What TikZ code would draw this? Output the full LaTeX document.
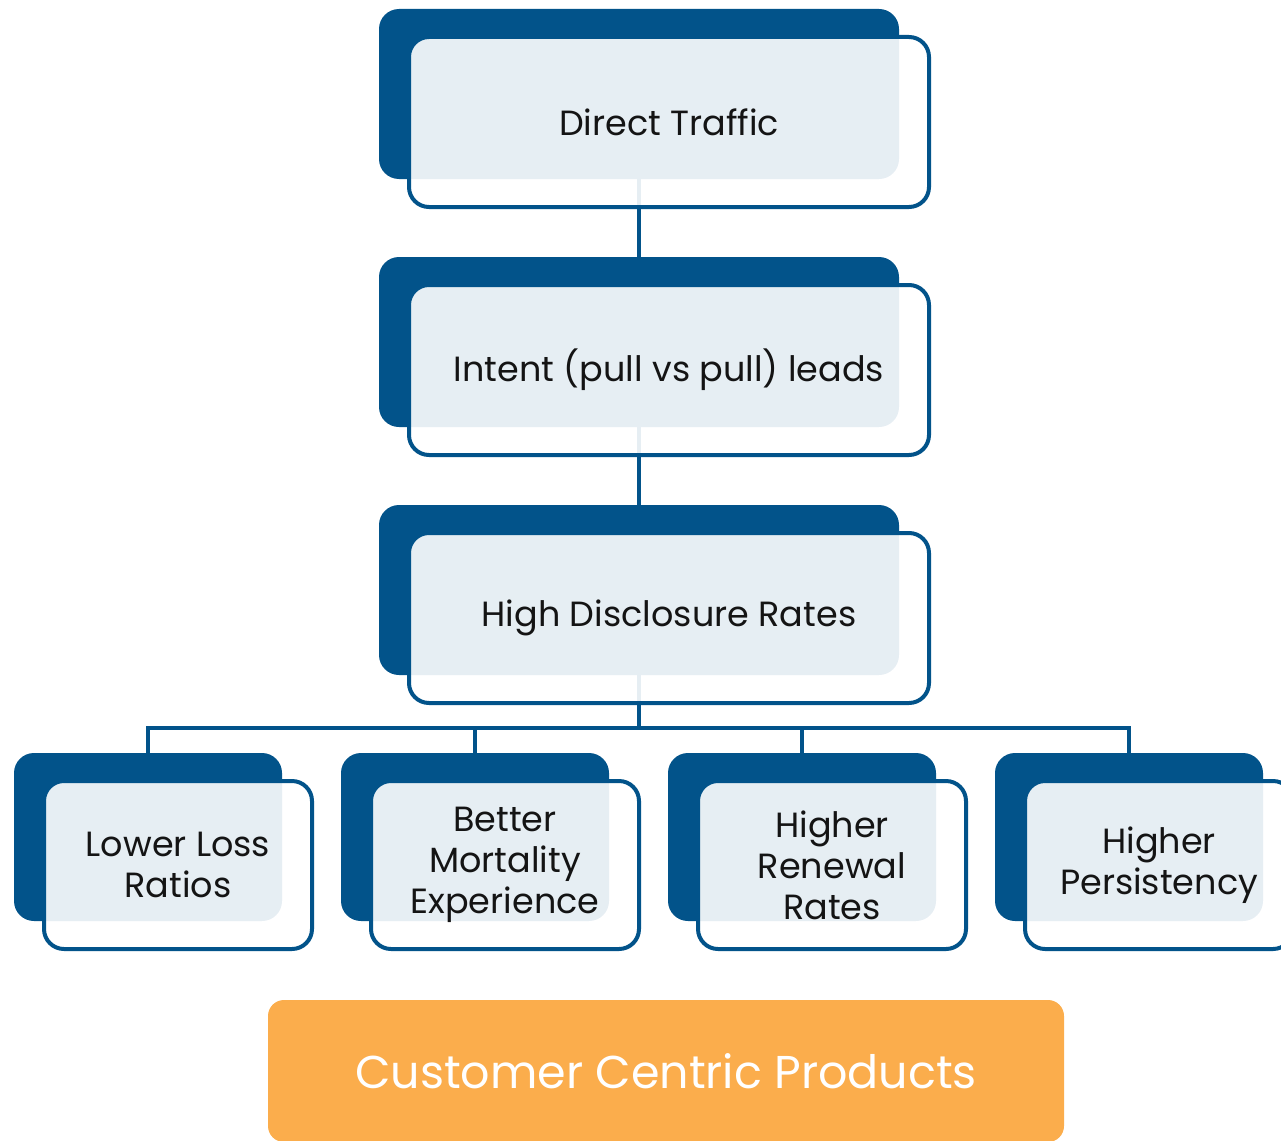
\documentclass[tikz,border=0pt]{standalone}
\usepackage{fontspec}
\setmainfont{Poppins}
\usetikzlibrary{positioning}

\pgfdeclarelayer{background}
\pgfsetlayers{background,main}

\definecolor{tierblue}{HTML}{02538A}
\definecolor{goalorange}{HTML}{FBAD4C}
\definecolor{inktext}{HTML}{141414}

\tikzset{
  tier/.style={rectangle, rounded corners=20pt, draw=tierblue, line width=4pt,
    fill=white, fill opacity=0.9, text opacity=1, text=inktext, align=center,
    preaction={fill=tierblue, draw=none, fill opacity=1,
      transform canvas={xshift=-30pt, yshift=28pt}}},
  wide/.style={tier, minimum width=520pt, minimum height=170pt,
    font=\fontsize{35}{42}\selectfont},
  small/.style={tier, minimum width=268pt, minimum height=168pt,
    font=\fontsize{35}{41}\selectfont},
  goal/.style={rectangle, rounded corners=16pt, fill=goalorange, text=white,
    minimum width=796pt, minimum height=142pt, font=\fontsize{46}{54}\selectfont},
  link/.style={draw=tierblue, line width=4.5pt}
}

\begin{document}
\begin{tikzpicture}[x=1pt, y=-1pt]

\useasboundingbox (0,0) rectangle (1281,1140);

% main chain
\node[wide] (traffic) at (669,122) {Direct Traffic};
\node[wide, below=74pt of traffic] (intent) {Intent (pull vs pull) leads};
\node[wide, below=74pt of intent] (disclosure) {High Disclosure Rates};

% outcomes
\node[small] (loss) at (178,865) {Lower Loss\\Ratios};
\node[small, right=55pt of loss] (mortality) {Better\\Mortality\\Experience};
\node[small, right=55pt of mortality] (renewal) {Higher\\Renewal\\Rates};
\node[small, right=55pt of renewal] (persistency) {Higher\\Persistency};

% goal
\node[goal] (products) at (666,1071) {Customer Centric Products};

% connectors
\begin{pgfonlayer}{background}
\draw[link] ([xshift=-30pt]traffic.center) -- ([xshift=-30pt]intent.center);
\draw[link] ([xshift=-30pt]intent.center) -- ([xshift=-30pt]disclosure.center);
\coordinate (split) at ([xshift=-30pt, yshift=-23pt]disclosure.south);
\draw[link] ([xshift=-30pt]disclosure.center) -- (split);
\foreach \n in {loss, mortality, renewal, persistency}
  \draw[link] (split) -| ([xshift=-30pt]\n.center);
\end{pgfonlayer}

\end{tikzpicture}
\end{document}
